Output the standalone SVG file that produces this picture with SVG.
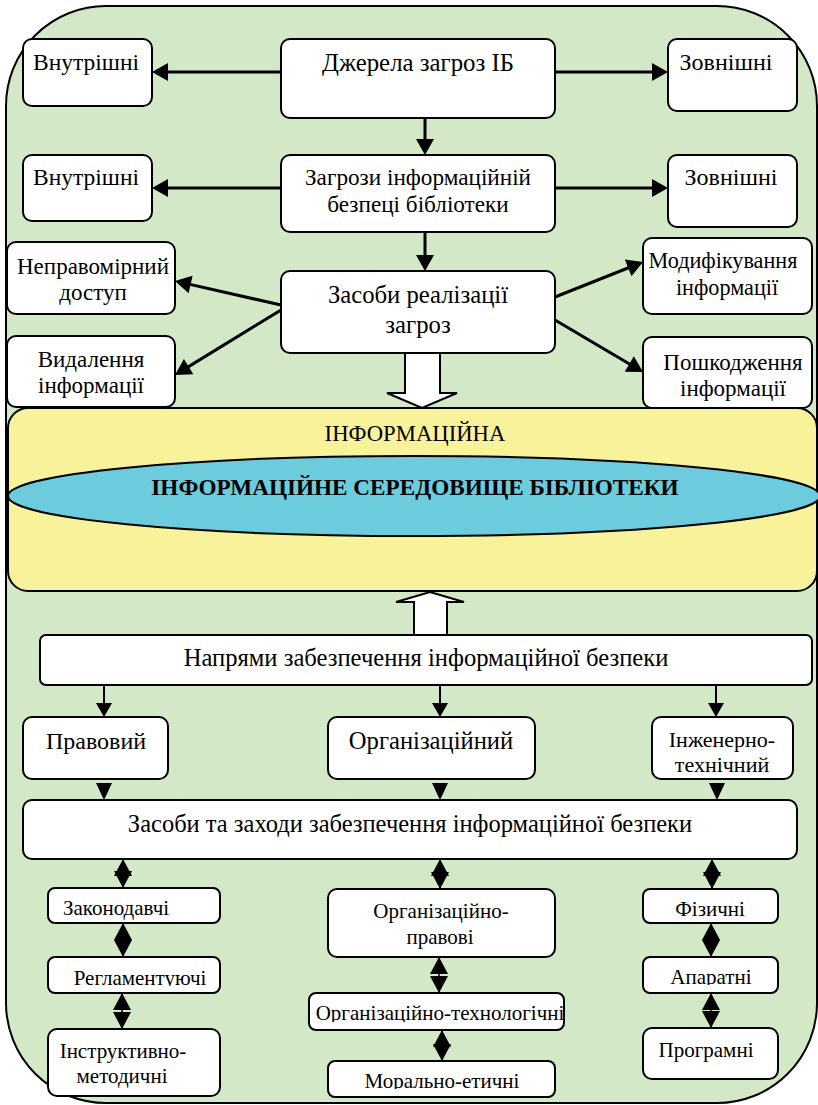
<svg xmlns="http://www.w3.org/2000/svg" width="818" height="1105" viewBox="0 0 818 1105">
<style>
.bx{fill:#fff;stroke:#000;stroke-width:2}
.t{font-family:'Liberation Serif','Times New Roman',serif;font-size:24px;fill:#000;text-anchor:middle}
.s{font-family:'Liberation Serif','Times New Roman',serif;font-size:21px;fill:#000;text-anchor:middle}
.c3{stroke:#000;stroke-width:3;fill:none}
.c2{stroke:#000;stroke-width:2;fill:none}
.d{stroke:#000;stroke-width:1.5;fill:none;marker-start:url(#dh);marker-end:url(#dh)}
</style>
<defs>
<marker id="ah" markerUnits="userSpaceOnUse" markerWidth="18" markerHeight="18" viewBox="0 0 16 18" refX="12" refY="9" orient="auto"><path d="M0,0 L16,9 L0,18 z" fill="#000"/></marker>
<marker id="ah2" markerUnits="userSpaceOnUse" markerWidth="16" markerHeight="16" viewBox="0 0 14 16" refX="11" refY="8" orient="auto"><path d="M0,0 L14,8 L0,16 z" fill="#000"/></marker>
<marker id="dh" markerUnits="userSpaceOnUse" markerWidth="18" markerHeight="18" viewBox="0 0 17 18" refX="17" refY="9" orient="auto-start-reverse"><path d="M0,0 L17,9 L0,18 z" fill="#000"/></marker>
<clipPath id="cpReg"><rect x="48" y="957" width="172" height="29"/></clipPath>
<clipPath id="cpApar"><rect x="643" y="957" width="135" height="28"/></clipPath>
<clipPath id="cpOrgT"><rect x="300" y="993" width="263" height="29"/></clipPath>
<clipPath id="cpMor"><rect x="328" y="1061" width="227" height="28"/></clipPath>
</defs>

<rect id="bg" x="6" y="6" width="811" height="1097" rx="100" ry="100" fill="#d2e8c6" stroke="#000" stroke-width="2"/>

<g id="connectors">
<line class="c3" x1="281" y1="72" x2="156" y2="72" marker-end="url(#ah)"/>
<line class="c3" x1="555" y1="72" x2="664" y2="72" marker-end="url(#ah)"/>
<line class="c3" x1="425" y1="118" x2="425" y2="151" marker-end="url(#ah)"/>
<line class="c3" x1="281" y1="188" x2="156" y2="188" marker-end="url(#ah)"/>
<line class="c3" x1="555" y1="188" x2="664" y2="188" marker-end="url(#ah)"/>
<line class="c3" x1="425" y1="232" x2="425" y2="267" marker-end="url(#ah)"/>
<line class="c3" x1="281" y1="305" x2="178.9" y2="281.9" marker-end="url(#ah)"/>
<line class="c3" x1="281" y1="310" x2="178.4" y2="372.9" marker-end="url(#ah)"/>
<line class="c3" x1="555" y1="297" x2="639.3" y2="263.5" marker-end="url(#ah)"/>
<line class="c3" x1="555" y1="320" x2="639.6" y2="370" marker-end="url(#ah)"/>
<path d="M405,353 L405,393 L387,393 L422,408 L457,393 L440,393 L440,353" fill="#fff" stroke="#000" stroke-width="2"/>
<path d="M414,635 L414,602 L396,602 L430,592 L464,602 L447,602 L447,635" fill="#fff" stroke="#000" stroke-width="2"/>
<line class="c2" x1="104" y1="685" x2="104" y2="714" marker-end="url(#ah2)"/>
<line class="c2" x1="440" y1="685" x2="440" y2="714" marker-end="url(#ah2)"/>
<line class="c2" x1="716" y1="685" x2="716" y2="714" marker-end="url(#ah2)"/>
<path d="M96,783 L112,783 L104,800 z M432,783 L448,783 L440,800 z M709,783 L725,783 L717,800 z" fill="#000"/>
<line class="d" x1="123" y1="859" x2="123" y2="888"/>
<line class="d" x1="123" y1="923" x2="123" y2="957"/>
<line class="d" x1="122" y1="993" x2="122" y2="1029"/>
<line class="d" x1="440" y1="859" x2="440" y2="889"/>
<line class="d" x1="439" y1="957" x2="439" y2="993"/>
<line class="d" x1="442" y1="1030" x2="442" y2="1061"/>
<line class="d" x1="712" y1="859" x2="712" y2="889"/>
<line class="d" x1="711" y1="923" x2="711" y2="957"/>
<line class="d" x1="711" y1="993" x2="711" y2="1028"/>
</g>

<g id="n-dzherela"><rect class="bx" x="281" y="39" width="274" height="79" rx="9"/><text class="t" x="418" y="71" style="font-size:24.8px">Джерела загроз ІБ</text></g>
<g id="n-vnutr1"><rect class="bx" x="23" y="39" width="129" height="67" rx="9"/><text class="t" x="86" y="70" style="font-size:23.5px">Внутрішні</text></g>
<g id="n-zovn1"><rect class="bx" x="668" y="39" width="129" height="72" rx="9"/><text class="t" x="726" y="70">Зовнішні</text></g>
<g id="n-zahrozy"><rect class="bx" x="281" y="155" width="274" height="77" rx="9"/><text class="t" x="418" y="185" style="font-size:23.2px">Загрози інформаційній</text><text class="t" x="418" y="212" style="font-size:23.2px">безпеці бібліотеки</text></g>
<g id="n-vnutr2"><rect class="bx" x="23" y="155" width="129" height="66" rx="9"/><text class="t" x="86" y="185" style="font-size:23.5px">Внутрішні</text></g>
<g id="n-zovn2"><rect class="bx" x="668" y="155" width="129" height="72" rx="9"/><text class="t" x="731" y="185">Зовнішні</text></g>
<g id="n-zasoby"><rect class="bx" x="281" y="271" width="274" height="82" rx="9"/><text class="t" x="418" y="303" style="font-size:24.7px">Засоби реалізації</text><text class="t" x="418" y="333" style="font-size:24.7px">загроз</text></g>
<g id="n-neprav"><rect class="bx" x="7" y="242" width="168" height="72" rx="9"/><text class="t" x="93" y="274" style="font-size:23px">Неправомірний</text><text class="t" x="93" y="300" style="font-size:23px">доступ</text></g>
<g id="n-vydal"><rect class="bx" x="7" y="336" width="168" height="71" rx="9"/><text class="t" x="91" y="367" style="font-size:23px">Видалення</text><text class="t" x="91" y="393" style="font-size:23px">інформації</text></g>
<g id="n-modyf"><rect class="bx" x="643" y="238" width="169" height="76" rx="9"/><text class="t" x="723" y="268" style="font-size:22.2px">Модифікування</text><text class="t" x="727" y="295" style="font-size:22.2px">інформації</text></g>
<g id="n-poshk"><rect class="bx" x="643" y="337" width="169" height="71" rx="9"/><text class="t" x="733" y="370" style="font-size:23px">Пошкодження</text><text class="t" x="733" y="396" style="font-size:23px">інформації</text></g>

<g id="n-seredovyshche">
<rect x="8" y="408" width="809" height="183" rx="20" fill="#f8f29a" stroke="#000" stroke-width="2"/>
<text class="t" x="415" y="441" style="font-size:22.7px">ІНФОРМАЦІЙНА</text>
<ellipse cx="414" cy="496" rx="406" ry="40" fill="#6ccbdc" stroke="#000" stroke-width="2"/>
<text class="t" x="415" y="495" style="font-size:23.2px;font-weight:bold">ІНФОРМАЦІЙНЕ СЕРЕДОВИЩЕ БІБЛІОТЕКИ</text>
</g>

<g id="n-napriamy"><rect class="bx" x="40" y="635" width="772" height="50" rx="6"/><text class="t" x="426" y="666" style="font-size:24.6px">Напрями забезпечення інформаційної безпеки</text></g>
<g id="n-pravovyi"><rect class="bx" x="23" y="717" width="145" height="62" rx="9"/><text class="t" x="96" y="749">Правовий</text></g>
<g id="n-orhan"><rect class="bx" x="328" y="717" width="207" height="62" rx="9"/><text class="t" x="431" y="749" style="font-size:24.6px">Організаційний</text></g>
<g id="n-inzh"><rect class="bx" x="652" y="717" width="141" height="62" rx="9"/><text class="s" x="722" y="747" style="font-size:22px">Інженерно-</text><text class="s" x="722" y="772" style="font-size:22px">технічний</text></g>
<g id="n-zasoby2"><rect class="bx" x="23" y="800" width="774" height="59" rx="9"/><text class="t" x="410" y="832" style="font-size:24.5px">Засоби та заходи забезпечення інформаційної безпеки</text></g>

<g id="n-zakon"><rect class="bx" x="48" y="888" width="172" height="35" rx="7"/><text class="s" x="116" y="915">Законодавчі</text></g>
<g id="n-rehl"><rect class="bx" x="48" y="957" width="172" height="36" rx="7"/><text class="s" x="140" y="985" clip-path="url(#cpReg)">Регламентуючі</text></g>
<g id="n-instr"><rect class="bx" x="48" y="1029" width="172" height="67" rx="9"/><text class="s" x="123" y="1058">Інструктивно-</text><text class="s" x="122" y="1083">методичні</text></g>

<g id="n-orhprav"><rect class="bx" x="328" y="889" width="227" height="68" rx="9"/><text class="s" x="441" y="918">Організаційно-</text><text class="s" x="440" y="944">правові</text></g>
<g id="n-orhtech"><rect class="bx" x="309" y="993" width="255" height="37" rx="7"/><text class="s" x="440" y="1020" clip-path="url(#cpOrgT)">Організаційно-технологічні</text></g>
<g id="n-moral"><rect class="bx" x="328" y="1061" width="227" height="36" rx="7"/><text class="s" x="442" y="1088" clip-path="url(#cpMor)">Морально-етичні</text></g>

<g id="n-fiz"><rect class="bx" x="643" y="889" width="135" height="34" rx="7"/><text class="s" x="710" y="916">Фізичні</text></g>
<g id="n-apar"><rect class="bx" x="643" y="957" width="135" height="36" rx="7"/><text class="s" x="711" y="984" clip-path="url(#cpApar)">Апаратні</text></g>
<g id="n-prohr"><rect class="bx" x="643" y="1028" width="135" height="51" rx="9"/><text class="s" x="706" y="1057">Програмні</text></g>
</svg>
